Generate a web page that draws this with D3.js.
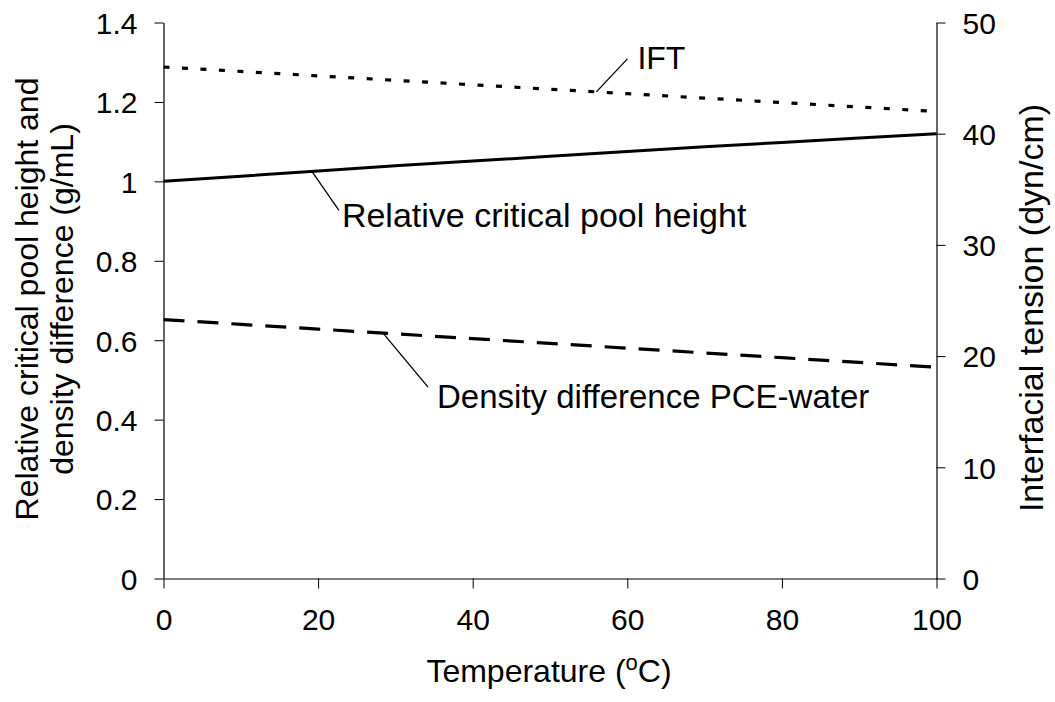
<!DOCTYPE html>
<html>
<head>
<meta charset="utf-8">
<script src="https://cdn.jsdelivr.net/npm/d3@7"></script>
<style>
  body { margin: 0; background: #fff; }
  svg text { font-family: "Liberation Sans", Arial, sans-serif; fill: #000; }
</style>
</head>
<body>
<svg id="chart" width="1055" height="702"></svg>
<script>
    // values
    var temperature = [0, 10, 20, 30, 40, 50, 60, 70, 80, 90, 100];
    var relHeight = [1.000, 1.013, 1.026, 1.039, 1.051, 1.063, 1.075, 1.087, 1.098, 1.109, 1.120];
    var ift = [46.0, 45.6, 45.2, 44.8, 44.4, 44.0, 43.6, 43.2, 42.8, 42.4, 42.0];
    var density = [0.652, 0.640, 0.628, 0.616, 0.604, 0.592, 0.580, 0.568, 0.556, 0.544, 0.532];
    var leftTicks = [0, 0.2, 0.4, 0.6, 0.8, 1, 1.2, 1.4];
    var rightTicks = [0, 10, 20, 30, 40, 50];
    var xTicks = [0, 20, 40, 60, 80, 100];

    var svg = d3.select("#chart");
    var x = d3.scaleLinear().domain([0, 100]).range([163.5, 936.5]);
    var yL = d3.scaleLinear().domain([0, 1.4]).range([578.5, 22.5]);
    var yR = d3.scaleLinear().domain([0, 50]).range([578.5, 22.5]);

    /*
     * axes
     */
    var xAxis = svg.append("g").attr("transform", "translate(0," + yL(0) + ")")
        .call(d3.axisBottom(x).tickValues(xTicks).tickSize(10).tickSizeOuter(0).tickPadding(20)
            .tickFormat(d3.format("d")));
    var leftAxis = svg.append("g").attr("transform", "translate(" + x(0) + ",0)")
        .call(d3.axisLeft(yL).tickValues(leftTicks).tickSize(9).tickSizeOuter(0).tickPadding(17)
            .tickFormat(function (d) { return d3.format("")(d); }));
    var rightAxis = svg.append("g").attr("transform", "translate(" + x(100) + ",0)")
        .call(d3.axisRight(yR).tickValues(rightTicks).tickSize(9).tickSizeOuter(0).tickPadding(17)
            .tickFormat(d3.format("d")));

    [xAxis, leftAxis, rightAxis].forEach(function (a) {
        a.select(".domain").attr("stroke", "#000").attr("stroke-width", 1.2);
        a.selectAll(".tick line").attr("stroke", "#000");
        a.selectAll(".tick text").style("font-size", "30px")
            .attr("font-family", null);
    });
    leftAxis.selectAll(".tick text").attr("dy", "0.36em");
    rightAxis.selectAll(".tick text").attr("dy", "0.36em");
    xAxis.selectAll(".tick text").attr("dy", "0.72em");

    /*
     * series lines
     */
    var lineL = d3.line()
        .x(function (d, i) { return x(temperature[i]); })
        .y(function (d) { return yL(d); });
    var lineR = d3.line()
        .x(function (d, i) { return x(temperature[i]); })
        .y(function (d) { return yR(d); });

    svg.append("path").datum(relHeight)
        .attr("d", lineL).attr("fill", "none")
        .attr("stroke", "#000").attr("stroke-width", 3);
    svg.append("path").datum(ift)
        .attr("d", lineR).attr("fill", "none")
        .attr("stroke", "#000").attr("stroke-width", 3.2)
        .attr("stroke-dasharray", "6,12.5");
    svg.append("path").datum(density)
        .attr("d", lineL).attr("fill", "none")
        .attr("stroke", "#000").attr("stroke-width", 3.2)
        .attr("stroke-dasharray", "21,13");

    /*
     * callout labels with leader lines
     */
    function callout(t, v, scale, dx, dy, label, tx, ty, size) {
        var px = x(t), py = scale(v);
        svg.append("line")
            .attr("x1", px).attr("y1", py)
            .attr("x2", px + dx).attr("y2", py + dy)
            .attr("stroke", "#000").attr("stroke-width", 1.3);
        svg.append("text")
            .attr("x", px + dx + tx).attr("y", py + dy + ty)
            .style("font-size", size + "px")
            .text(label);
    }
    callout(56, 43.76, yR, 31, -33, "IFT", 10, 10, 32);
    callout(19.2, 1.025, yL, 27, 39, "Relative critical pool height", 3, 17, 34);
    callout(28.4, 0.618, yL, 45, 54, "Density difference PCE-water", 9, 21, 33);

    /*
     * axis titles
     */
    var xt = svg.append("text")
        .attr("x", 549).attr("y", 682)
        .attr("text-anchor", "middle")
        .style("font-size", "32px");
    xt.append("tspan").text("Temperature (");
    xt.append("tspan").attr("dy", -12).style("font-size", "22px").text("o");
    xt.append("tspan").attr("dy", 12).text("C)");

    var lt = svg.append("text")
        .attr("transform", "translate(0,299) rotate(-90)")
        .attr("text-anchor", "middle")
        .style("font-size", "32px");
    lt.append("tspan").attr("x", 0).attr("y", 38).text("Relative critical pool height and");
    lt.append("tspan").attr("x", 0).attr("y", 73).text("density difference (g/mL)");

    svg.append("text")
        .attr("transform", "translate(1043,308) rotate(-90)")
        .attr("text-anchor", "middle")
        .style("font-size", "34px")
        .text("Interfacial tension (dyn/cm)");
</script>
</body>
</html>
